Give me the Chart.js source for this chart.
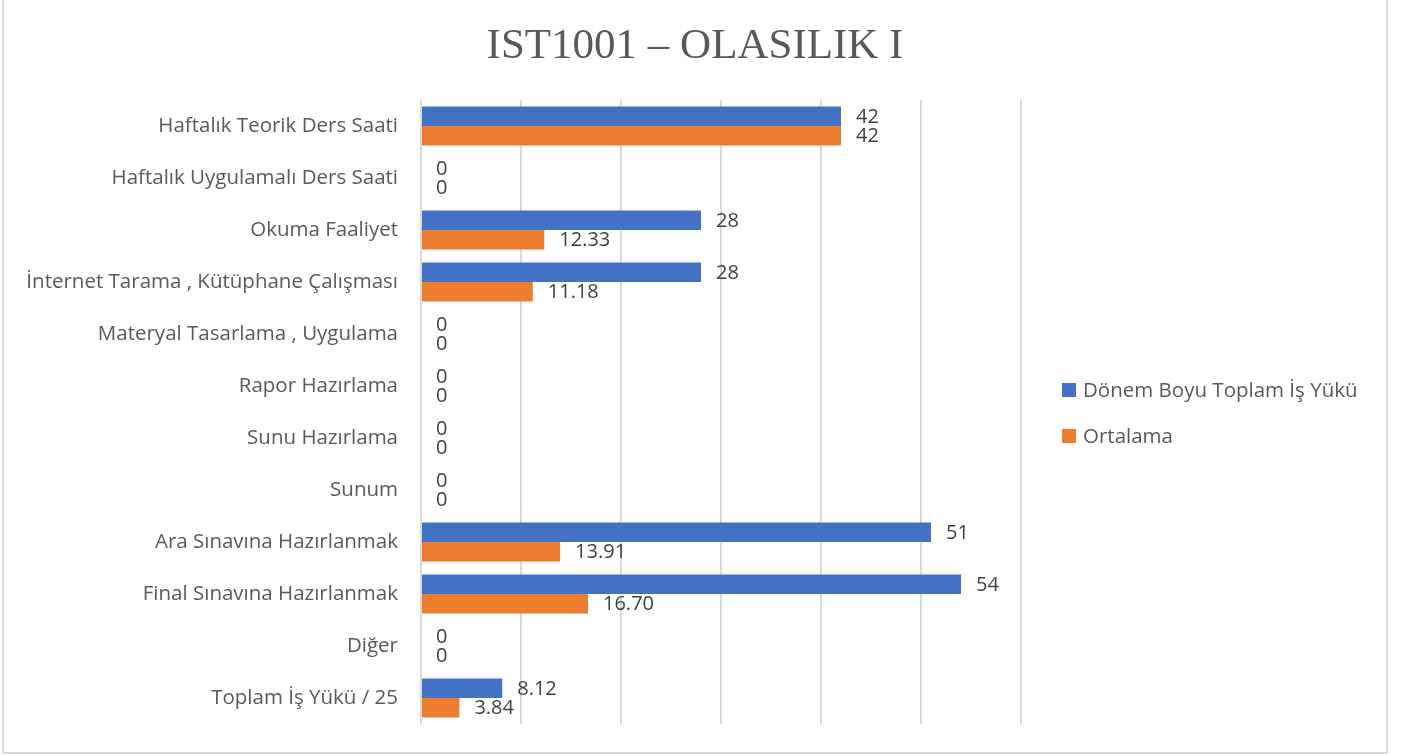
<!DOCTYPE html>
<html>
<head>
<meta charset="utf-8">
<script src="https://cdn.jsdelivr.net/npm/chart.js@4/dist/chart.umd.min.js"></script>
<style>
  html, body { margin: 0; padding: 0; background: #ffffff; overflow: hidden; }
  #wrap { position: relative; width: 1403px; height: 755px; }
  #frame { position: absolute; left: 2px; top: -3px; width: 1386px; height: 757px; box-sizing: border-box; border: 2px solid #d9d9d9; pointer-events: none; }
  canvas { position: absolute; left: 0; top: 0; }
</style>
</head>
<body>
<div id="wrap">
  <canvas id="c" width="1403" height="755"></canvas>
  <div id="frame"></div>
</div>
<script>
const chartTitle = "IST1001 – OLASILIK I";
const categories = [
  "Haftalık Teorik Ders Saati",
  "Haftalık Uygulamalı Ders Saati",
  "Okuma Faaliyet",
  "İnternet Tarama , Kütüphane Çalışması",
  "Materyal Tasarlama , Uygulama",
  "Rapor Hazırlama",
  "Sunu Hazırlama",
  "Sunum",
  "Ara Sınavına Hazırlanmak",
  "Final Sınavına Hazırlanmak",
  "Diğer",
  "Toplam İş Yükü / 25"
];
const seriesNames = ["Dönem Boyu Toplam İş Yükü", "Ortalama"];
const toplamIsYuku = [42, 0, 28, 28, 0, 0, 0, 0, 51, 54, 0, 8.12];
const ortalama = [42, 0, 12.33, 11.18, 0, 0, 0, 0, 13.91, 16.70, 0, 3.84];
const xTicks = [0, 10, 20, 30, 40, 50, 60];

const BLUE = "#4472C4";
const ORANGE = "#ED7D31";
const LABEL_FONT = "'Open Sans', 'Noto Sans', sans-serif";

function fmt(v) {
  return Number.isInteger(v) ? String(v) : v.toFixed(2);
}

const valueLabels = {
  id: "valueLabels",
  afterDatasetsDraw(chart) {
    const ctx = chart.ctx;
    ctx.save();
    ctx.font = "20px " + LABEL_FONT;
    ctx.fillStyle = "#404040";
    ctx.textAlign = "left";
    ctx.textBaseline = "middle";
    chart.data.datasets.forEach((ds, di) => {
      const meta = chart.getDatasetMeta(di);
      meta.data.forEach((el, i) => {
        ctx.fillText(fmt(ds.data[i]), el.x + 15, el.y + 1);
      });
    });
    ctx.restore();
  }
};

const sideLegend = {
  id: "sideLegend",
  afterDraw(chart) {
    const ctx = chart.ctx;
    ctx.save();
    ctx.font = "20.5px " + LABEL_FONT;
    ctx.textAlign = "left";
    ctx.textBaseline = "middle";
    const x0 = chart.chartArea.right + 41;
    const ys = [390, 436];
    chart.data.datasets.forEach((ds, i) => {
      ctx.fillStyle = ds.backgroundColor;
      ctx.fillRect(x0, ys[i] - 7, 14, 14);
      ctx.fillStyle = "#595959";
      ctx.fillText(ds.label, x0 + 21, ys[i] + 1);
    });
    ctx.restore();
  }
};

const centerTitle = {
  id: "centerTitle",
  afterDraw(chart) {
    const ctx = chart.ctx;
    ctx.save();
    ctx.font = "43px 'Liberation Serif', 'DejaVu Serif', serif";
    ctx.fillStyle = "#595959";
    ctx.textAlign = "center";
    ctx.textBaseline = "alphabetic";
    ctx.fillText(chartTitle, 695, 58);
    ctx.restore();
  }
};

new Chart(document.getElementById("c"), {
  type: "bar",
  data: {
    labels: categories,
    datasets: [
      { label: seriesNames[0], data: toplamIsYuku, backgroundColor: BLUE, borderWidth: 0 },
      { label: seriesNames[1], data: ortalama, backgroundColor: ORANGE, borderWidth: 0 }
    ]
  },
  options: {
    indexAxis: "y",
    responsive: false,
    animation: false,
    devicePixelRatio: 1,
    layout: { padding: { left: 0, right: 382, top: 100, bottom: 31 } },
    datasets: { bar: { categoryPercentage: 0.75, barPercentage: 1.0 } },
    plugins: {
      legend: { display: false },
      tooltip: { enabled: false },
      title: { display: false }
    },
    scales: {
      x: {
        type: "linear",
        min: xTicks[0],
        max: xTicks[xTicks.length - 1],
        afterBuildTicks(scale) { scale.ticks = xTicks.map(v => ({ value: v })); },
        ticks: { display: false },
        grid: { color: "#d9d9d9", lineWidth: 2, drawTicks: false },
        border: { display: false },
        afterFit(scale) { scale.height = 0; scale.paddingLeft = 0; scale.paddingRight = 0; }
      },
      y: {
        type: "category",
        grid: { display: false, drawTicks: false },
        border: { display: false },
        ticks: {
          color: "#595959",
          padding: 23,
          autoSkip: false,
          font: { family: LABEL_FONT, size: 20.5 }
        },
        afterFit(scale) { scale.width = 421; scale.paddingTop = 0; scale.paddingBottom = 0; }
      }
    }
  },
  plugins: [valueLabels, sideLegend, centerTitle]
});
</script>
</body>
</html>
